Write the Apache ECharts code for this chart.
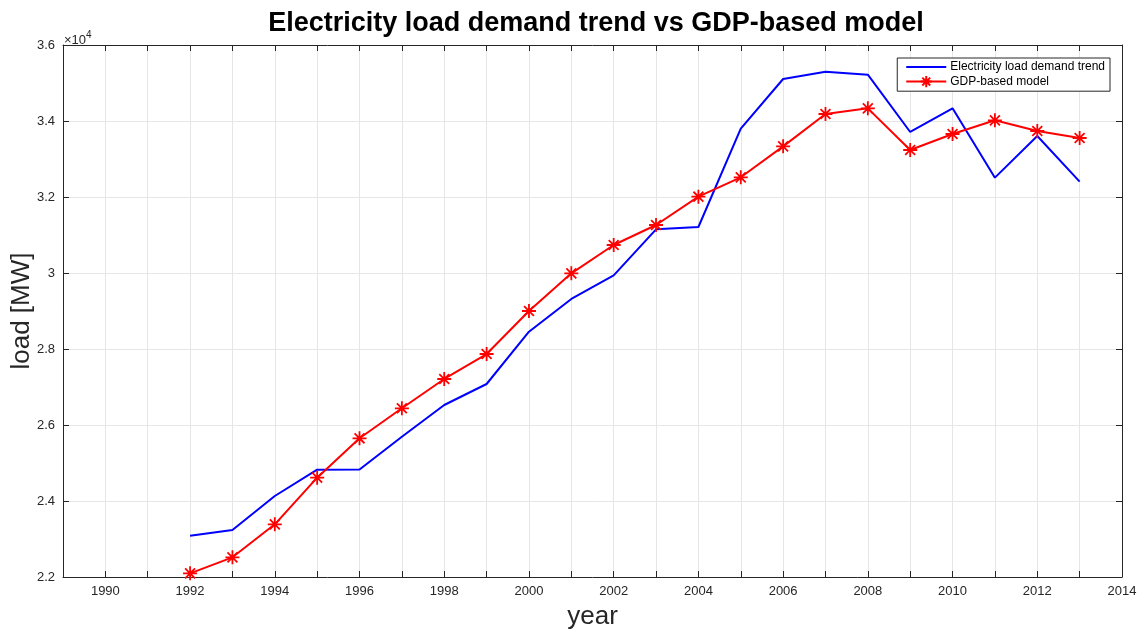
<!DOCTYPE html>
<html>
<head>
<meta charset="utf-8">
<script src="https://cdn.jsdelivr.net/npm/echarts@6/dist/echarts.min.js"></script>
<style>html,body{margin:0;padding:0;background:#fff}#c{width:1139px;height:630px}</style>
</head>
<body>
<div id="c"></div>
<script>
const years = [1992,1993,1994,1995,1996,1997,1998,1999,2000,2001,2002,2003,2004,2005,2006,2007,2008,2009,2010,2011,2012,2013];
const loadDemand = [23087,23237,24132,24824,24830,25690,26526,27079,28455,29316,29939,31149,31211,33797,35105,35298,35219,33711,34333,32509,33605,32404];
const gdpModel = [22097,22518,23386,24614,25650,26440,27211,27868,29000,29991,30737,31263,32008,32518,33333,34184,34333,33237,33658,34018,33737,33553];
const seriesNames = ['Electricity load demand trend','GDP-based model'];
const titleText = 'Electricity load demand trend vs GDP-based model';

const FONT = 'Liberation Sans, Arial, Helvetica, sans-serif';
const AX = '#262626';
const GRIDC = '#e6e6e6';
const star = 'path://M0,-10L0,10M-10,0L10,0M-7.07,-7.07L7.07,7.07M-7.07,7.07L7.07,-7.07';

const chart = echarts.init(document.getElementById('c'), null, {renderer:'canvas'});
chart.setOption({
  backgroundColor:'#fff',
  animation:false,
  title:{text:titleText,left:591,textAlign:'center',top:5,textStyle:{fontFamily:FONT,fontSize:27,fontWeight:'bold',color:'#000'}},
  grid:{left:63,right:17,top:45,bottom:53,containLabel:false,outerBoundsMode:'none'},
  legend:{
    right:29, top:58, orient:'vertical', itemGap:2, itemWidth:40, itemHeight:14,
    borderColor:AX, borderWidth:1, padding:[3,5,3,8], backgroundColor:'#fff',
    textStyle:{fontFamily:FONT,fontSize:12,color:'#000',padding:[0,0,0,-1]},
    data:[{name:seriesNames[0],itemStyle:{opacity:0}},{name:seriesNames[1]}]
  },
  graphic:[{type:'text',left:64,top:30,style:{text:'{a|×10}{b|4}',rich:{a:{fontFamily:FONT,fontSize:13,fill:AX,verticalAlign:'bottom'},b:{fontFamily:FONT,fontSize:10,fill:AX,verticalAlign:'top',padding:[0,0,7,0]}}}}],
  xAxis:[{
    type:'value',min:1989,max:2014,interval:1,
    name:'year',nameLocation:'middle',nameGap:27,
    nameTextStyle:{fontFamily:FONT,fontSize:26,color:AX},
    axisLine:{onZero:false,lineStyle:{color:AX,width:1}},
    axisTick:{inside:true,length:6,lineStyle:{color:AX}},
    axisLabel:{formatter:v=>(v%2===0?String(v):''),fontFamily:FONT,fontSize:13,color:AX,margin:8},
    splitLine:{show:true,lineStyle:{color:GRIDC,width:1}}
  },{
    type:'value',min:1989,max:2014,interval:1,position:'top',
    axisLine:{onZero:false,lineStyle:{color:AX,width:1}},
    axisTick:{inside:true,length:6,lineStyle:{color:AX}},
    axisLabel:{show:false},splitLine:{show:false}
  }],
  yAxis:[{
    type:'value',min:22000,max:36000,interval:2000,
    name:'load [MW]',nameLocation:'middle',nameGap:28,nameMoveOverlap:false,
    nameTextStyle:{fontFamily:FONT,fontSize:26,color:AX},
    axisLine:{show:true,onZero:false,lineStyle:{color:AX,width:1}},
    axisTick:{show:true,inside:true,length:6,lineStyle:{color:AX}},
    axisLabel:{formatter:v=>(v/10000).toFixed(1).replace(/\.0$/,''),fontFamily:FONT,fontSize:13,color:AX,margin:8},
    splitLine:{show:true,lineStyle:{color:GRIDC,width:1}}
  },{
    type:'value',min:22000,max:36000,interval:2000,position:'right',
    axisLine:{show:true,onZero:false,lineStyle:{color:AX,width:1}},
    axisTick:{show:true,inside:true,length:6,lineStyle:{color:AX}},
    axisLabel:{show:false},splitLine:{show:false}
  }],
  series:[{
    name:seriesNames[0],type:'line',xAxisIndex:0,yAxisIndex:0,
    data:years.map((y,i)=>[y,loadDemand[i]]),
    symbol:'none',lineStyle:{color:'#0000ff',width:2},itemStyle:{color:'#0000ff'}
  },{
    name:seriesNames[1],type:'line',xAxisIndex:0,yAxisIndex:0,
    data:years.map((y,i)=>[y,gdpModel[i]]),
    symbol:star,symbolSize:14,showAllSymbol:true,
    lineStyle:{color:'#ff0000',width:2},
    itemStyle:{color:'#ff0000',borderColor:'#ff0000',borderWidth:1.8}
  }]
});
</script>
</body>
</html>
